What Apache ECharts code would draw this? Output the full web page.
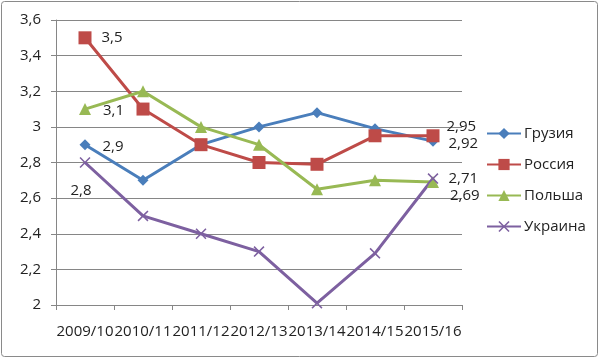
<!DOCTYPE html>
<html><head><meta charset="utf-8">
<script src="https://cdn.jsdelivr.net/npm/echarts@6/dist/echarts.min.js"></script>
<style>html,body{margin:0;padding:0;background:#fff}#c{width:600px;height:359px}</style>
</head><body><div id="c"></div>
<script>
const categories = ['2009/10','2010/11','2011/12','2012/13','2013/14','2014/15','2015/16'];
const georgia = [2.9, 2.7, 2.9, 3.0, 3.08, 2.99, 2.92];
const russia  = [3.5, 3.1, 2.9, 2.8, 2.79, 2.95, 2.95];
const poland  = [3.1, 3.2, 3.0, 2.9, 2.65, 2.7, 2.69];
const ukraine = [2.8, 2.5, 2.4, 2.3, 2.01, 2.29, 2.71];
const yTicks = [2, 2.2, 2.4, 2.6, 2.8, 3, 3.2, 3.4, 3.6];

const FONT = '"Open Sans", "Noto Sans", sans-serif';
const fmt = v => String(v).replace('.', ',');
const crossPath = 'path://M0,1L1,0L5,4L9,0L10,1L6,5L10,9L9,10L5,6L1,10L0,9L4,5Z';

function mkData(arr, labels) {
  return arr.map((v, i) => {
    const d = { value: v };
    if (labels[i]) d.label = Object.assign({ show: true, formatter: p => fmt(p.value) }, labels[i]);
    return d;
  });
}
const lbl = { color: '#222', fontSize: 15, fontFamily: FONT };

const series = [
  { name: 'Грузия', data: georgia, color: '#4A7EBB', symbol: 'diamond', symbolSize: 11,
    labels: { 0: { position: 'right', offset: [7, 2] }, 6: { position: 'right', offset: [5, 3] } } },
  { name: 'Россия', data: russia, color: '#BE4B48', symbol: 'rect', symbolSize: 13,
    labels: { 0: { position: 'right', offset: [5, 0] }, 6: { position: 'right', offset: [2, -9] } } },
  { name: 'Польша', data: poland, color: '#98B954', symbol: 'triangle', symbolSize: 12,
    labels: { 0: { position: 'right', offset: [7, 2] }, 6: { position: 'right', offset: [6, 14] } } },
  { name: 'Украина', data: ukraine, color: '#7D60A0', symbol: crossPath, symbolSize: 11,
    labels: { 0: { position: 'bottom', offset: [-4, 10] }, 6: { position: 'right', offset: [5, 0] } } }
];

const chart = echarts.init(document.getElementById('c'), null, { renderer: 'canvas' });
chart.setOption({
  backgroundColor: '#fff',
  animation: false,
  graphic: [{ type: 'rect', shape: { x: 1.5, y: 1.5, width: 596, height: 355, r: 3 },
    style: { fill: 'none', stroke: '#8a8a8a', lineWidth: 1 }, silent: true }],
  grid: { left: 56, right: 138, top: 20, bottom: 54 },
  legend: {
    orient: 'vertical', left: 486, top: 126, itemGap: 16, itemWidth: 34, itemHeight: 14,
    padding: 0,
    textStyle: { color: '#222', fontSize: 15, fontFamily: FONT, lineHeight: 14, padding: [0, 0, 0, -2] },
    data: series.map(s => s.name)
  },
  xAxis: {
    type: 'category', data: categories, boundaryGap: true,
    axisLine: { lineStyle: { color: '#868686' } },
    axisTick: { show: true, length: 5, lineStyle: { color: '#868686' } },
    axisLabel: { interval: 0, color: '#222', fontSize: 15, fontFamily: FONT, margin: 19 }
  },
  yAxis: {
    type: 'value', min: 2, max: 3.6, interval: 0.2,
    axisLine: { show: true, lineStyle: { color: '#868686' } },
    axisTick: { show: true, length: 5, lineStyle: { color: '#868686' } },
    splitLine: { lineStyle: { color: '#868686' } },
    axisLabel: { color: '#222', fontSize: 15, fontFamily: FONT, margin: 15,
      formatter: v => fmt(Math.round(v * 10) / 10) }
  },
  series: series.map(s => ({
    name: s.name, type: 'line', data: mkData(s.data, Object.fromEntries(Object.entries(s.labels).map(([k, v]) => [k, Object.assign({}, lbl, v)]))),
    color: s.color, symbol: s.symbol, symbolSize: s.symbolSize, showAllSymbol: true,
    lineStyle: { width: 3, color: s.color }, itemStyle: { color: s.color }
  }))
});
</script></body></html>
